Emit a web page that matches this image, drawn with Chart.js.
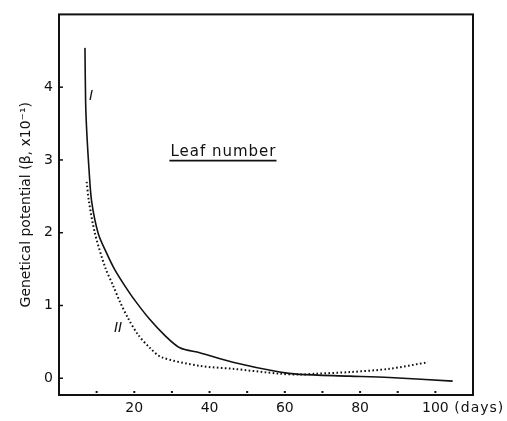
<!DOCTYPE html>
<html><head><meta charset="utf-8">
<script src="https://cdn.jsdelivr.net/npm/chart.js@4.4.1/dist/chart.umd.min.js"></script>
<style>html,body{margin:0;padding:0;background:#fff}</style>
</head><body>
<canvas id="c" width="507" height="421"></canvas>
<script>
// Curve I (solid)
const daysI   = [6.9, 7.08, 7.43, 7.96, 8.67, 10.42, 12.65, 14.85, 17.5, 20.16, 24.1, 28.1, 32.1, 37.4, 46.2, 58.6, 63.9, 77.2, 87.8, 104.6];
const valuesI = [4.54, 3.78, 3.33, 2.88, 2.43, 1.99, 1.72, 1.49, 1.27, 1.07, 0.81, 0.59, 0.42, 0.35, 0.22, 0.085, 0.054, 0.03, 0.01, -0.04];
// Curve II (dotted)
const daysII   = [7.35, 7.96, 9.55, 12.3, 14.4, 16.2, 18.4, 21.0, 24.1, 27.2, 37.4, 46.2, 58.6, 63.9, 68.4, 77.2, 87.8, 98];
const valuesII = [2.70, 2.43, 1.99, 1.52, 1.27, 1.05, 0.82, 0.60, 0.42, 0.29, 0.17, 0.13, 0.063, 0.05, 0.063, 0.085, 0.13, 0.22];

const xTicks = [20, 40, 60, 80, 100];
const xMinorTicks = [10, 20, 30, 40, 50, 60, 70, 80, 90, 100];
const yTicks = [0, 1, 2, 3, 4];

const FONT = 'DejaVu Sans';
const INK = '#111';

const toPts = (xs, ys) => xs.map((x, i) => ({x: x, y: ys[i]}));

const framePlugin = {
  id: 'frame',
  afterDraw(chart) {
    const ctx = chart.ctx, a = chart.chartArea;
    const xs = chart.scales.x, ys = chart.scales.y;
    ctx.save();
    ctx.strokeStyle = INK;
    ctx.lineWidth = 2;
    ctx.strokeRect(a.left, a.top, a.right - a.left, a.bottom - a.top);
    // y ticks (inward)
    ctx.lineWidth = 1.5;
    yTicks.forEach(v => {
      const y = ys.getPixelForValue(v);
      ctx.beginPath(); ctx.moveTo(a.left, y); ctx.lineTo(a.left + 4, y); ctx.stroke();
    });
    // x minor tick dots
    ctx.fillStyle = INK;
    xMinorTicks.forEach(v => {
      const x = xs.getPixelForValue(v);
      ctx.fillRect(x - 1, a.bottom - 4, 2, 2);
    });
    // (days)
    ctx.font = '14px "' + FONT + '"';
    ctx.textBaseline = 'middle';
    ctx.textAlign = 'left';
    ctx.letterSpacing = '1px';
    ctx.fillText('(days)', xs.getPixelForValue(100) + 19, a.bottom + 13);
    // Leaf number
    const lx = xs.getPixelForValue(29.6), ly = ys.getPixelForValue(3.06) - 3;
    ctx.font = '15px "' + FONT + '"';
    ctx.fillText('Leaf number', lx, ly);
    const w = ctx.measureText('Leaf number').width;
    ctx.lineWidth = 1.6;
    ctx.beginPath(); ctx.moveTo(lx - 1, ly + 8); ctx.lineTo(lx + w, ly + 8); ctx.stroke();
    // curve labels
    ctx.letterSpacing = '0px';
    ctx.font = 'italic 14px "' + FONT + '"';
    ctx.textAlign = 'center';
    ctx.fillText('I', xs.getPixelForValue(8.5), ys.getPixelForValue(3.87));
    ctx.fillText('II', xs.getPixelForValue(15.7), ys.getPixelForValue(0.69));
    ctx.restore();
  }
};

new Chart(document.getElementById('c'), {
  type: 'line',
  data: {
    datasets: [
      {label: 'I', data: toPts(daysI, valuesI), borderColor: INK, borderWidth: 1.6,
       pointRadius: 0, fill: false, tension: 0.3},
      {label: 'II', data: toPts(daysII, valuesII), borderColor: INK, borderWidth: 2,
       borderDash: [1.6, 2.4], pointRadius: 0, fill: false, tension: 0.3}
    ]
  },
  options: {
    responsive: false,
    animation: false,
    devicePixelRatio: 1,
    layout: {padding: {left: 0, top: 6, right: 34, bottom: 0}},
    plugins: {legend: {display: false}, tooltip: {enabled: false}},
    scales: {
      x: {
        type: 'linear', min: 0, max: 110,
        afterBuildTicks: s => { s.ticks = xTicks.map(v => ({value: v})); },
        afterFit: s => { s.height = 26; },
        grid: {display: false, drawTicks: false},
        border: {display: false},
        ticks: {color: INK, font: {family: FONT, size: 14}, padding: 5, maxRotation: 0, autoSkip: false}
      },
      y: {
        type: 'linear', min: -0.23, max: 5,
        afterBuildTicks: s => { s.ticks = yTicks.map(v => ({value: v})); },
        afterFit: s => { s.width = 59; },
        grid: {display: false, drawTicks: false},
        border: {display: false},
        ticks: {color: INK, font: {family: FONT, size: 14}, padding: 6},
        title: {display: true, text: 'Genetical potential (β, x10⁻¹)', color: INK,
                font: {family: FONT, size: 14}, padding: {top: 18, bottom: 0}}
      }
    }
  },
  plugins: [framePlugin]
});
</script>
</body></html>
